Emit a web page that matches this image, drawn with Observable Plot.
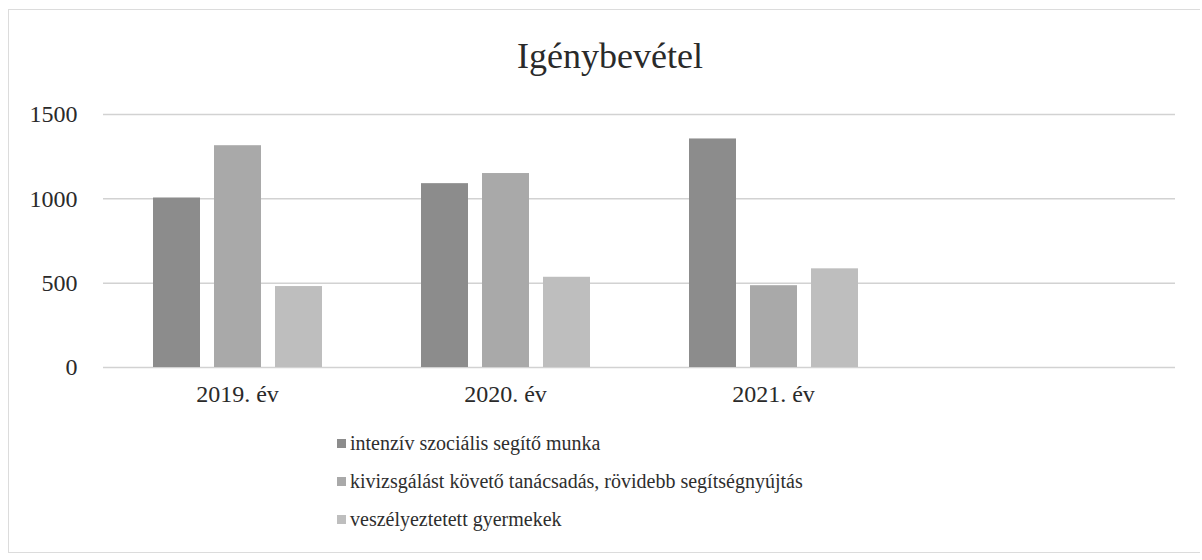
<!DOCTYPE html>
<html>
<head>
<meta charset="utf-8">
<script src="https://cdn.jsdelivr.net/npm/d3@7"></script>
<script src="https://cdn.jsdelivr.net/npm/@observablehq/plot@0.6"></script>
<style>
  html, body { margin: 0; padding: 0; background: #fff; }
  body { width: 1202px; height: 560px; position: relative; overflow: hidden; font-family: "Liberation Serif", "Times New Roman", serif; color: #2a2a2a; }
  #frame { position: absolute; left: 8px; top: 9px; width: 1192px; height: 544px; border: 1px solid #dcdcdc; border-right: none; box-sizing: border-box; }
  #title { position: absolute; left: 0; width: 1220px; top: 38px; text-align: center; font-family: "Liberation Serif", serif; font-size: 36px; line-height: 36px; color: #2a2a2a; }
  #chart { position: absolute; left: 0; top: 90px; }
  #legend { position: absolute; left: 337px; top: 424px; font-family: "Liberation Serif", serif; font-size: 20px; color: #2e2e2e; }
  .item { display: flex; align-items: center; height: 38px; font-family: "Liberation Serif", serif; }
  .sw { width: 9px; height: 9px; margin-right: 4px; }
</style>
</head>
<body>
<div id="frame"></div>
<div id="title">Igénybevétel</div>
<div id="chart"></div>
<div id="legend"></div>
<script>
const years = ["2019. év", "2020. év", "2021. év"];
const emptySlot = " ";
const series = [
  "intenzív szociális segítő munka",
  "kivizsgálást követő tanácsadás, rövidebb segítségnyújtás",
  "veszélyeztetett gyermekek"
];
const intenziv = [1005, 1090, 1355];
const kivizsgalast = [1315, 1150, 485];
const veszelyeztetett = [480, 535, 585];
const yTicks = [0, 500, 1000, 1500];
const colors = ["#8c8c8c", "#a9a9a9", "#bebebe"];

const slots = [...years, emptySlot];
const seriesValues = [intenziv, kivizsgalast, veszelyeztetett];
const data = years.flatMap((yr, i) =>
  series.map((s, j) => ({ year: yr, series: s, value: seriesValues[j][i] }))
);
const gridData = slots.flatMap(s => yTicks.map(t => ({ slot: s, tick: t })));

const chart = Plot.plot({
  width: 1202,
  height: 320,
  marginLeft: 102,
  marginRight: 27,
  marginTop: 24,
  marginBottom: 43,
  style: { fontFamily: "Liberation Serif", fontSize: "24px", color: "#2a2a2a", background: "transparent" },
  fx: { domain: slots, padding: 0, label: null, tickSize: 0, tickPadding: 17 },
  x: { domain: series, axis: null, paddingInner: 0.23, paddingOuter: 0.81 },
  y: { domain: [0, 1500], ticks: yTicks, tickFormat: d => String(d), tickSize: 0, tickPadding: 26, label: null },
  color: { domain: series, range: colors },
  marks: [
    Plot.ruleY(gridData, { fx: "slot", y: "tick", stroke: "#d2d2d2", strokeWidth: 1.5 }),
    Plot.barY(data, { fx: "year", x: "series", y: "value", fill: "series" })
  ]
});
document.getElementById("chart").appendChild(chart);

const legend = document.getElementById("legend");
series.forEach((s, i) => {
  const item = document.createElement("div");
  item.className = "item";
  const sw = document.createElement("span");
  sw.className = "sw";
  sw.style.background = colors[i];
  const t = document.createElement("span");
  t.textContent = s;
  item.appendChild(sw);
  item.appendChild(t);
  legend.appendChild(item);
});
</script>
</body>
</html>
